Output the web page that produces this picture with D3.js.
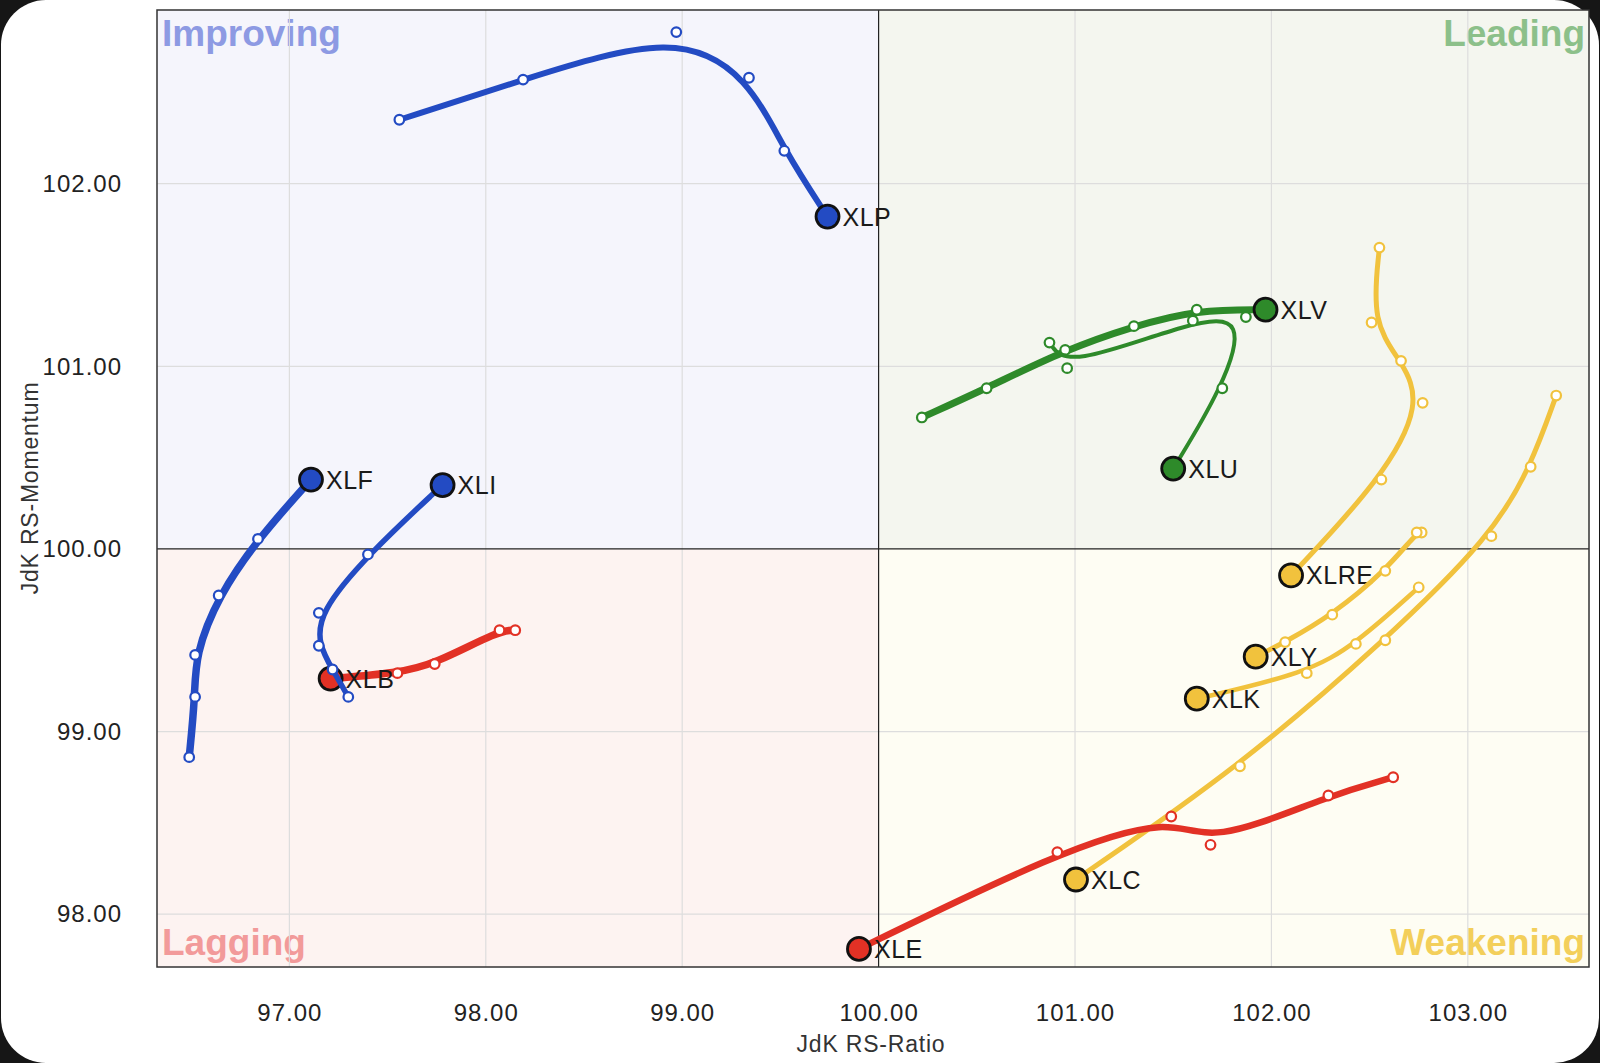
<!DOCTYPE html>
<html>
<head>
<meta charset="utf-8">
<script src="https://cdn.jsdelivr.net/npm/d3@7"></script>
<style>
  html, body { margin: 0; padding: 0; background: #161616; }
  svg { display: block; }
  .axis-label { font-family: "Liberation Sans", Arial, sans-serif; font-size: 24px; fill: #222; letter-spacing: 1px; }
  .axis-title { font-family: "Liberation Sans", Arial, sans-serif; font-size: 23px; fill: #333; letter-spacing: 0.8px; }
  .quad-label { font-family: "Liberation Sans", Arial, sans-serif; font-size: 37px; font-weight: bold; }
  .sym-label { font-family: "Liberation Sans", Arial, sans-serif; font-size: 25px; fill: #1a1a1a; letter-spacing: 0.5px; }
</style>
</head>
<body>
<div id="chart"></div>
<script>
// tick values
const ratioTicks = [97, 98, 99, 100, 101, 102, 103];
const momentumTicks = [98, 99, 100, 101, 102];
const quadrantNames = ["Improving", "Leading", "Lagging", "Weakening"];

// tails, oldest point first, last point = current position [RS-Ratio, RS-Momentum]
const XLC = [[103.45, 100.84], [103.32, 100.45], [103.12, 100.07], [102.58, 99.50], [101.84, 98.81], [101.005, 98.19]];
const XLE = [[102.62, 98.75], [102.29, 98.65], [101.69, 98.38], [101.49, 98.535], [100.91, 98.34], [99.90, 97.81]];
const XLB = [[98.15, 99.555], [98.07, 99.555], [97.74, 99.37], [97.55, 99.32], [97.21, 99.29]];
const XLI = [[97.30, 99.19], [97.22, 99.34], [97.15, 99.47], [97.15, 99.65], [97.40, 99.97], [97.78, 100.35]];
const XLF = [[96.49, 98.86], [96.52, 99.19], [96.52, 99.42], [96.64, 99.745], [96.84, 100.055], [97.11, 100.38]];
const XLP = [[97.56, 102.35], [98.19, 102.57], [98.97, 102.83], [99.34, 102.58], [99.52, 102.18], [99.74, 101.82]];
const XLV = [[100.22, 100.72], [100.55, 100.88], [100.95, 101.09], [101.30, 101.22], [101.62, 101.31], [101.97, 101.31]];
const XLU = [[100.87, 101.13], [100.96, 100.99], [101.60, 101.25], [101.87, 101.27], [101.75, 100.88], [101.50, 100.44]];
const XLRE = [[102.55, 101.65], [102.51, 101.24], [102.66, 101.03], [102.77, 100.80], [102.56, 100.38], [102.10, 99.855]];
const XLK = [[102.75, 99.79], [102.43, 99.48], [102.18, 99.32], [101.62, 99.18]];
const XLY = [[102.765, 100.09], [102.74, 100.09], [102.58, 99.88], [102.31, 99.64], [102.07, 99.49], [101.92, 99.41]];

const trails = [
  { name: "XLC", points: XLC }, { name: "XLE", points: XLE }, { name: "XLB", points: XLB },
  { name: "XLI", points: XLI }, { name: "XLF", points: XLF }, { name: "XLP", points: XLP },
  { name: "XLV", points: XLV }, { name: "XLU", points: XLU }, { name: "XLRE", points: XLRE },
  { name: "XLK", points: XLK }, { name: "XLY", points: XLY }
];

const lineWidths = { XLC: 5, XLE: 6.5, XLB: 7.5, XLI: 5.5, XLF: 7.5, XLP: 6, XLV: 7, XLU: 4, XLRE: 5, XLK: 4.5, XLY: 5 };
const quadColors = { Improving: "#234bc3", Leading: "#2e8a2a", Lagging: "#e23125", Weakening: "#f1c23d" };
const quadFills = { Improving: "#f5f5fc", Leading: "#f4f6ef", Lagging: "#fdf3f1", Weakening: "#fefdf3" };
const quadText = { Improving: "#8d9ae3", Leading: "#8cc08a", Lagging: "#f29a9a", Weakening: "#f3cf5a" };

const W = 1600, H = 1063;
const plotLeft = 157, plotRight = 1589, plotTop = 10, plotBottom = 967;

const svg = d3.select("#chart").append("svg").attr("width", W).attr("height", H);
svg.append("rect").attr("width", W).attr("height", H).attr("fill", "#161616");
svg.append("rect").attr("x", 1).attr("y", 0).attr("width", W - 2).attr("height", H)
  .attr("rx", 45).attr("fill", "#ffffff");

const x = d3.scaleLinear().domain([96.326, 103.617]).range([plotLeft, plotRight]);
const y = d3.scaleLinear().domain([97.711, 102.951]).range([plotBottom, plotTop]);

function quadrantOf(p) {
  if (p[1] >= 100) return p[0] >= 100 ? "Leading" : "Improving";
  return p[0] >= 100 ? "Weakening" : "Lagging";
}

// quadrant backgrounds
const quads = [
  { name: "Improving", x0: plotLeft, x1: x(100), y0: plotTop, y1: y(100) },
  { name: "Leading", x0: x(100), x1: plotRight, y0: plotTop, y1: y(100) },
  { name: "Lagging", x0: plotLeft, x1: x(100), y0: y(100), y1: plotBottom },
  { name: "Weakening", x0: x(100), x1: plotRight, y0: y(100), y1: plotBottom }
];
svg.selectAll(".quad").data(quads).join("rect")
  .attr("x", d => d.x0).attr("y", d => d.y0)
  .attr("width", d => d.x1 - d.x0).attr("height", d => d.y1 - d.y0)
  .attr("fill", d => quadFills[d.name]);

// quadrant names
const quadPos = {
  Improving: { x: plotLeft + 5, y: plotTop + 36, anchor: "start" },
  Leading: { x: plotRight - 4, y: plotTop + 36, anchor: "end" },
  Lagging: { x: plotLeft + 5, y: plotBottom - 12, anchor: "start" },
  Weakening: { x: plotRight - 4, y: plotBottom - 12, anchor: "end" }
};
svg.selectAll(".quad-label").data(quadrantNames).join("text")
  .attr("class", "quad-label")
  .attr("x", d => quadPos[d].x).attr("y", d => quadPos[d].y)
  .attr("text-anchor", d => quadPos[d].anchor)
  .attr("fill", d => quadText[d])
  .text(d => d);

// grid
const grid = svg.append("g");
grid.selectAll(".vg").data(ratioTicks.filter(d => d !== 100)).join("line")
  .attr("x1", d => x(d)).attr("x2", d => x(d)).attr("y1", plotTop).attr("y2", plotBottom)
  .attr("stroke", "#dddddd").attr("stroke-width", 1.2);
grid.selectAll(".hg").data(momentumTicks.filter(d => d !== 100)).join("line")
  .attr("y1", d => y(d)).attr("y2", d => y(d)).attr("x1", plotLeft).attr("x2", plotRight)
  .attr("stroke", "#dddddd").attr("stroke-width", 1.2);
grid.append("line").attr("x1", x(100)).attr("x2", x(100)).attr("y1", plotTop).attr("y2", plotBottom)
  .attr("stroke", "#222").attr("stroke-width", 1.2);
grid.append("line").attr("y1", y(100)).attr("y2", y(100)).attr("x1", plotLeft).attr("x2", plotRight)
  .attr("stroke", "#222").attr("stroke-width", 1.2);
svg.append("rect").attr("x", plotLeft).attr("y", plotTop).attr("width", plotRight - plotLeft).attr("height", plotBottom - plotTop)
  .attr("fill", "none").attr("stroke", "#333").attr("stroke-width", 1.5);

// axes
const fmt = d3.format(".2f");
const xAxis = svg.append("g").attr("transform", `translate(0,${plotBottom})`)
  .call(d3.axisBottom(x).tickValues(ratioTicks).tickFormat(fmt).tickSize(0).tickPadding(37));
const yAxis = svg.append("g").attr("transform", `translate(${plotLeft},0)`)
  .call(d3.axisLeft(y).tickValues(momentumTicks).tickFormat(fmt).tickSize(0).tickPadding(35));
[xAxis, yAxis].forEach(a => {
  a.select(".domain").remove();
  a.attr("font-family", null).attr("font-size", null);
  a.selectAll("text").attr("class", "axis-label");
});

svg.append("text").attr("class", "axis-title").attr("x", 871).attr("y", 1052)
  .attr("text-anchor", "middle").text("JdK RS-Ratio");
svg.append("text").attr("class", "axis-title")
  .attr("transform", "translate(38,488) rotate(-90)")
  .attr("text-anchor", "middle").text("JdK RS-Momentum");

// trails
const line = d3.line().x(d => x(d[0])).y(d => y(d[1])).curve(d3.curveBasis);

trails.forEach(t => {
  const head = t.points[t.points.length - 1];
  const color = quadColors[quadrantOf(head)];
  const g = svg.append("g");
  g.append("path").datum(t.points).attr("d", line)
    .attr("fill", "none").attr("stroke", color)
    .attr("stroke-width", lineWidths[t.name])
    .attr("stroke-linecap", "round").attr("stroke-linejoin", "round");
  g.selectAll(".tail").data(t.points.slice(0, -1)).join("circle")
    .attr("cx", d => x(d[0])).attr("cy", d => y(d[1])).attr("r", 4.8)
    .attr("fill", "#fff").attr("stroke", color).attr("stroke-width", 2.2);
  g.append("circle").attr("cx", x(head[0])).attr("cy", y(head[1])).attr("r", 11.5)
    .attr("fill", color).attr("stroke", "#111").attr("stroke-width", 2.8);
  g.append("text").attr("class", "sym-label")
    .attr("x", x(head[0]) + 15).attr("y", y(head[1])).attr("dy", "0.36em")
    .text(t.name);
});
</script>
</body>
</html>
